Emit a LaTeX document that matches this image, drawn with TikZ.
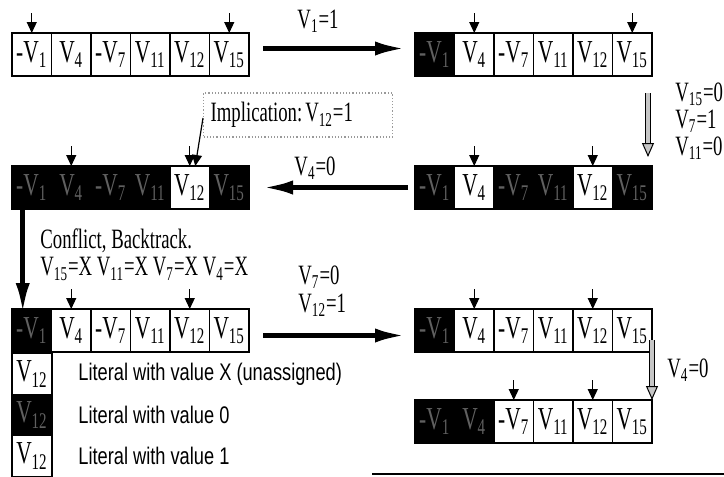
\documentclass[tikz,border=0pt]{standalone}
\usepackage{fontspec}
\setmainfont[FakeStretch=0.67]{Liberation Serif}
\newfontfamily\legendfont[FakeStretch=0.76]{Liberation Sans}
\usetikzlibrary{arrows.meta,positioning}
\newcommand\vv[1]{V\textsubscript{#1}}

\begin{document}
\begin{tikzpicture}[x=0.5pt,y=-0.5pt,
  cell/.style={draw,line width=0.7pt,minimum width=19.75pt,minimum height=21.5pt,inner sep=0pt,outer sep=0pt,font=\fontsize{16}{16}\selectfont},
  dark/.style={cell,fill=black,text=gray!75!black},
  pointer/.style={line width=0.6pt,-{Triangle[length=5.5pt,width=5pt]}},
  flow/.style={line width=2.6pt,-{Latex[length=16pt,width=7pt]}},
  hollow/.style={double=gray!45,double distance=1.6pt,line width=0.5pt,-{Triangle[length=7pt,width=6pt,fill=gray!45]}},
  lbl/.style={font=\fontsize{14}{16}\selectfont,inner sep=0pt},
  implbox/.style={draw=gray!80,densely dotted,line width=0.6pt,text width=87.5pt,inner xsep=3.5pt,minimum height=22pt,align=left,font=\fontsize{14}{16}\selectfont},
  legend/.style={font=\legendfont\fontsize{12}{14}\selectfont,inner sep=0pt}]
\useasboundingbox (0,0) rectangle (724,477);

\foreach \r/\x/\y/\dk in {A/12/54.5/{0},B/415/54.5/{1},C/415/187.5/{1,3,4,6},D/12/187.5/{1,2,3,4,6},E/12/330.5/{1},F/415/330.5/{1},G/415/421.5/{1,2}}
{
  \foreach \lab [count=\i] in {-\vv{1},\vv{4},-\vv{7},\vv{11},\vv{12},\vv{15}}
  {
    \gdef\cellkind{cell}
    \foreach \j in \dk {\ifnum\i=\j \gdef\cellkind{dark}\fi}
    \node[\cellkind] (\r\i) at ({\x+(\i-0.5)*39.5},\y) {\lab};
  }
}
\foreach \r/\a/\b in {A/1/6,B/2/6,C/2/5,D/2/5,E/2/5,F/2/5,G/3/5}
  \foreach \c in {\a,\b}
    \draw[pointer] (\r\c.north) ++(0,-20) -- (\r\c.north);

\draw[flow] ([xshift=7pt,yshift=3pt]A6.east) -- ([xshift=-4pt,yshift=3pt]B1.west);
\node[lbl] (l1) at (318,21) {\vv{1}=1};

\draw[hollow] ([xshift=-2pt,yshift=-8.5pt]B6.south east) -- ([xshift=-2pt,yshift=4.5pt]C6.north east);
\node[lbl,anchor=west] (l2) at (675,94) {\vv{15}=0};
\node[lbl,anchor=west] (l3) at (675,121) {\vv{7}=1};
\node[lbl,anchor=west] (l4) at (675,148) {\vv{11}=0};

\draw[flow] ([xshift=-3.5pt]C1.west) -- ([xshift=6pt]D6.east);
\node[lbl] (l5) at (315,168) {\vv{4}=0};

\node[implbox,anchor=west] (impl) at (203,115) {Implication:\hspace{1.5pt}\vv{12}=1};
\draw[pointer] ([yshift=-1.5pt]impl.west) -- ([xshift=2.75pt]D5.north);

\draw[flow] ([xshift=-4.5pt]D1.south) -- ([xshift=-4.5pt,yshift=-3pt]E1.north);
\node[lbl,anchor=west] (l6) at (40,241) {Conflict, Backtrack.};
\node[lbl,anchor=west] (l7) at (40,269) {\vv{15}=X \vv{11}=X \vv{7}=X \vv{4}=X};

\draw[flow] ([xshift=7pt,yshift=-2.5pt]E6.east) -- ([xshift=-4pt,yshift=-2.5pt]F1.west);
\node[lbl,anchor=west] (l8) at (298,277) {\vv{7}=0};
\node[lbl,anchor=west] (l9) at (298,305) {\vv{12}=1};

\draw[hollow] ([yshift=-4.75pt]F6.east) -- (G6.north east);
\node[lbl,anchor=west] (l10) at (667,370) {\vv{4}=0};

\node[cell,minimum width=20pt,minimum height=20.5pt] (L1) at (32,374) {\vv{12}};
\node[dark,minimum width=20pt,minimum height=20.5pt,below=0pt of L1] (L2) {\vv{12}};
\node[cell,minimum width=20pt,minimum height=20.5pt,below=0pt of L2] (L3) {\vv{12}};
\node[legend,right=13pt of L1] (t1) {Literal with value X (unassigned)};
\node[legend,right=13pt of L2] (t2) {Literal with value 0};
\node[legend,right=13pt of L3] (t3) {Literal with value 1};

\draw[line width=0.6pt] (372,474) -- (724,474);
\end{tikzpicture}
\end{document}
